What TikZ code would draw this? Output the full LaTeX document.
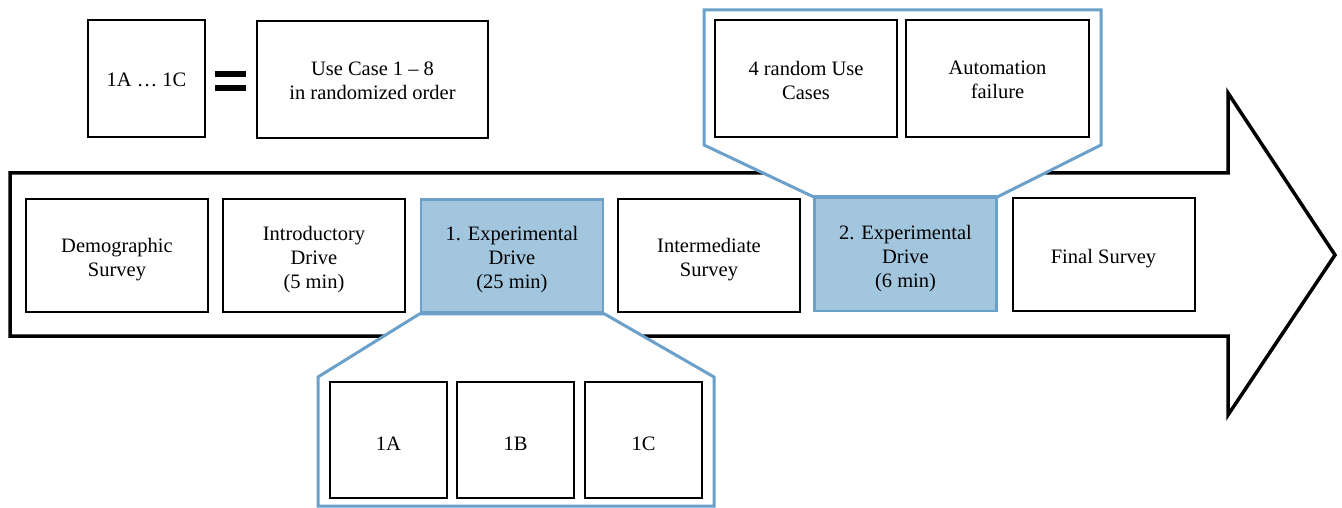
\documentclass[tikz,border=0pt]{standalone}
\usepackage{fontspec}
\setmainfont{Liberation Serif}
\usetikzlibrary{backgrounds}
\definecolor{fillblue}{RGB}{163,198,223}
\definecolor{lineblue}{RGB}{106,160,202}
\tikzset{
  lbl/.style={align=center,inner sep=0pt,yshift=-4pt,font=\fontsize{20.5}{24}\selectfont},
  txt/.style={label={[lbl]center:{#1}}},
  toptxt/.style={label={[lbl,yshift=2.5pt]center:{#1}}},
  stagebox/.style={draw=black,line width=2pt,fill=white,inner sep=0pt,
    minimum width=182pt,minimum height=113pt},
  smallbox/.style={stagebox,minimum width=117pt,minimum height=117pt},
  hilite/.style={stagebox,draw=lineblue,line width=2.5pt,fill=fillblue},
  callout/.style={draw=lineblue,line width=3pt,fill=white,line join=miter},
  bigarrow/.style={draw=black,line width=3.5pt,line join=miter,fill=white}
}
\begin{document}
\begin{tikzpicture}[x=1pt,y=-1pt]
\useasboundingbox (0,0) rectangle (1342,508);
% stages
\node[stagebox,txt={Demographic\\Survey}] (demo) at (117,255.5) {};
\node[stagebox,txt={Introductory\\Drive\\(5 min)}] (intro) at (314,255.5) {};
\node[hilite,txt={1. Experimental\\Drive\\(25 min)}] (exp1) at (512,256) {};
\node[stagebox,txt={Intermediate\\Survey}] (inter) at (709,255.5) {};
\node[hilite,txt={2. Experimental\\Drive\\(6 min)}] (exp2) at (905.5,254.5) {};
\node[stagebox,txt={Final Survey}] (final) at (1103.5,254.5) {};
% top callout content
\node[stagebox,minimum height=117pt,toptxt={4 random Use\\Cases}] (rand) at (806,78.5) {};
\node[stagebox,minimum width=183pt,minimum height=117pt,toptxt={Automation\\failure}] (fail) at (997.5,78.5) {};
% bottom callout content
\node[smallbox,minimum height=116pt,txt={1A}] (bA) at (388.5,440) {};
\node[smallbox,minimum height=116pt,txt={1B}] (bB) at (515.5,440) {};
\node[smallbox,minimum height=116pt,txt={1C}] (bC) at (643.5,440) {};
% legend
\node[smallbox,toptxt={1A … 1C}] (key1) at (146.5,78.5) {};
\node[stagebox,minimum width=231pt,minimum height=117pt,toptxt={Use Case 1 – 8\\in randomized order}] (key2) at (372.5,79.5) {};
\fill[black] (215,71) rectangle (246,77);
\fill[black] (215,85) rectangle (246,91);
\begin{pgfonlayer}{background}
% big arrow
\draw[bigarrow] (10,173) -- (1228,173) -- (1228,93) -- (1335,255) -- (1228,415) -- (1228,336) -- (10,336) -- cycle;
% callouts
\draw[callout] (704,10) -- (1101,10) -- (1101,145) -- (exp2.north east) -- (exp2.north west) -- (704,145) -- cycle;
\draw[callout] (exp1.south west) -- (exp1.south east) -- (714,377) -- (714,506) -- (318,506) -- (318,377) -- cycle;
\end{pgfonlayer}
\end{tikzpicture}
\end{document}
